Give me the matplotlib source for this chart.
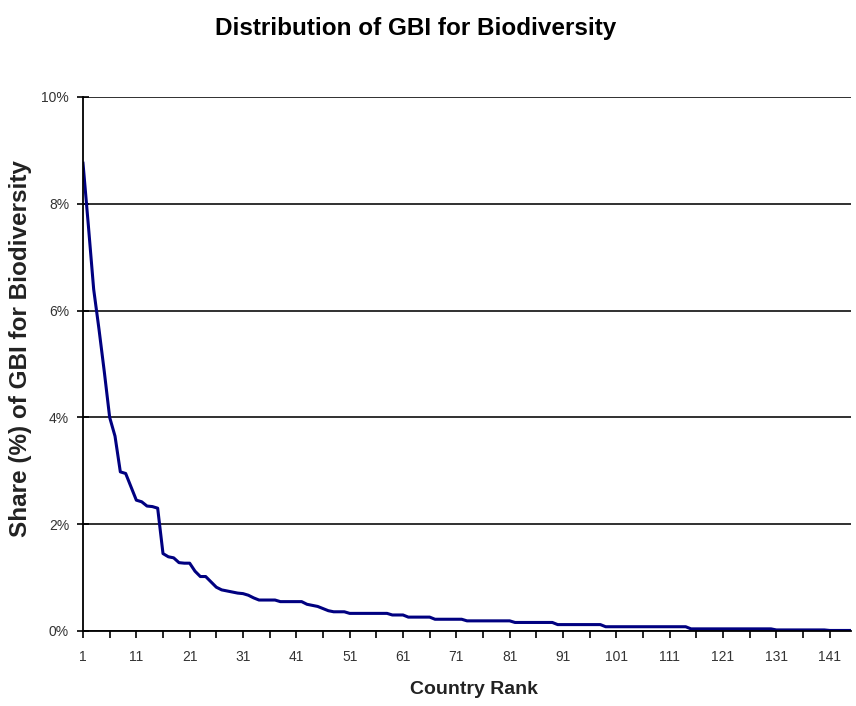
import numpy as np
import matplotlib.pyplot as plt
from matplotlib.ticker import FuncFormatter

# share (%) of GBI for biodiversity, by country rank
share = [
    8.76, 7.60, 6.40, 5.65, 4.85, 4.00, 3.65, 2.98, 2.95, 2.70,   # 1-10
    2.45, 2.42, 2.34, 2.33, 2.30, 1.45, 1.39, 1.37, 1.28, 1.27,   # 11-20
    1.27, 1.12, 1.02, 1.02, 0.92, 0.82, 0.77, 0.75, 0.73, 0.71,   # 21-30
    0.70, 0.67, 0.62, 0.58, 0.58, 0.58, 0.58, 0.55, 0.55, 0.55,   # 31-40
    0.55, 0.55, 0.50, 0.48, 0.46, 0.42, 0.38, 0.36, 0.36, 0.36,   # 41-50
    0.33, 0.33, 0.33, 0.33, 0.33, 0.33, 0.33, 0.33, 0.30, 0.30,   # 51-60
    0.30, 0.26, 0.26, 0.26, 0.26, 0.26, 0.22, 0.22, 0.22, 0.22,   # 61-70
    0.22, 0.22, 0.19, 0.19, 0.19, 0.19, 0.19, 0.19, 0.19, 0.19,   # 71-80
    0.19, 0.16, 0.16, 0.16, 0.16, 0.16, 0.16, 0.16, 0.16, 0.12,   # 81-90
    0.12, 0.12, 0.12, 0.12, 0.12, 0.12, 0.12, 0.12, 0.08, 0.08,   # 91-100
    0.08, 0.08, 0.08, 0.08, 0.08, 0.08, 0.08, 0.08, 0.08, 0.08,   # 101-110
    0.08, 0.08, 0.08, 0.08, 0.04, 0.04, 0.04, 0.04, 0.04, 0.04,   # 111-120
    0.04, 0.04, 0.04, 0.04, 0.04, 0.04, 0.04, 0.04, 0.04, 0.04,   # 121-130
    0.02, 0.02, 0.02, 0.02, 0.02, 0.02, 0.02, 0.02, 0.02, 0.02,   # 131-140
    0.01, 0.01, 0.01, 0.01, 0.01,                                 # 141-145
]
rank = list(range(1, len(share) + 1))
rank_labels = list(range(1, 146, 10))

plt.rcParams['font.family'] = ['Liberation Sans', 'DejaVu Sans']

fig = plt.figure(figsize=(8.56, 7.06), dpi=100)
ax = fig.add_axes([83 / 856, 75 / 706, 768 / 856, 534 / 706])

ax.plot(rank, share, color='#000080', lw=2.2, solid_joinstyle='round')

ax.set_xlim(1, len(share))
ax.set_ylim(0, 10)
ax.set_yticks(np.arange(0, 11, 2))
ax.yaxis.set_major_formatter(FuncFormatter(lambda v, p: f"{v:.0f}%"))
ax.set_xticks(np.arange(1, len(share) + 1, 5))
ax.set_xticklabels([str(r) if r in rank_labels else '' for r in np.arange(1, len(share) + 1, 5)])

ax.grid(axis='y', color='#202020', lw=1.3)
ax.set_axisbelow(True)
for s in ['top', 'right']:
    ax.spines[s].set_visible(False)
for s in ['left', 'bottom']:
    ax.spines[s].set_linewidth(1.3)
ax.tick_params(axis='y', direction='inout', length=8, width=1.2, labelsize=10, pad=6,
               labelcolor='#333333')
ax.tick_params(axis='x', direction='out', length=5, width=1.2, labelsize=10, pad=9,
               labelcolor='#333333')

fig.text(416 / 856, 1 - 28 / 706, 'Distribution of GBI for Biodiversity',
         ha='center', va='center', fontsize=17.5, fontweight='bold')
fig.text(21 / 856, 1 - 349 / 706, 'Share (%) of GBI for Biodiversity',
         ha='center', va='center', rotation=90, fontsize=17.5, fontweight='bold',
         color='#222222')
fig.text(474 / 856, 1 - 690 / 706, 'Country Rank',
         ha='center', va='center', fontsize=14, fontweight='bold', color='#222222')

fig.savefig('out.png', dpi=100)
